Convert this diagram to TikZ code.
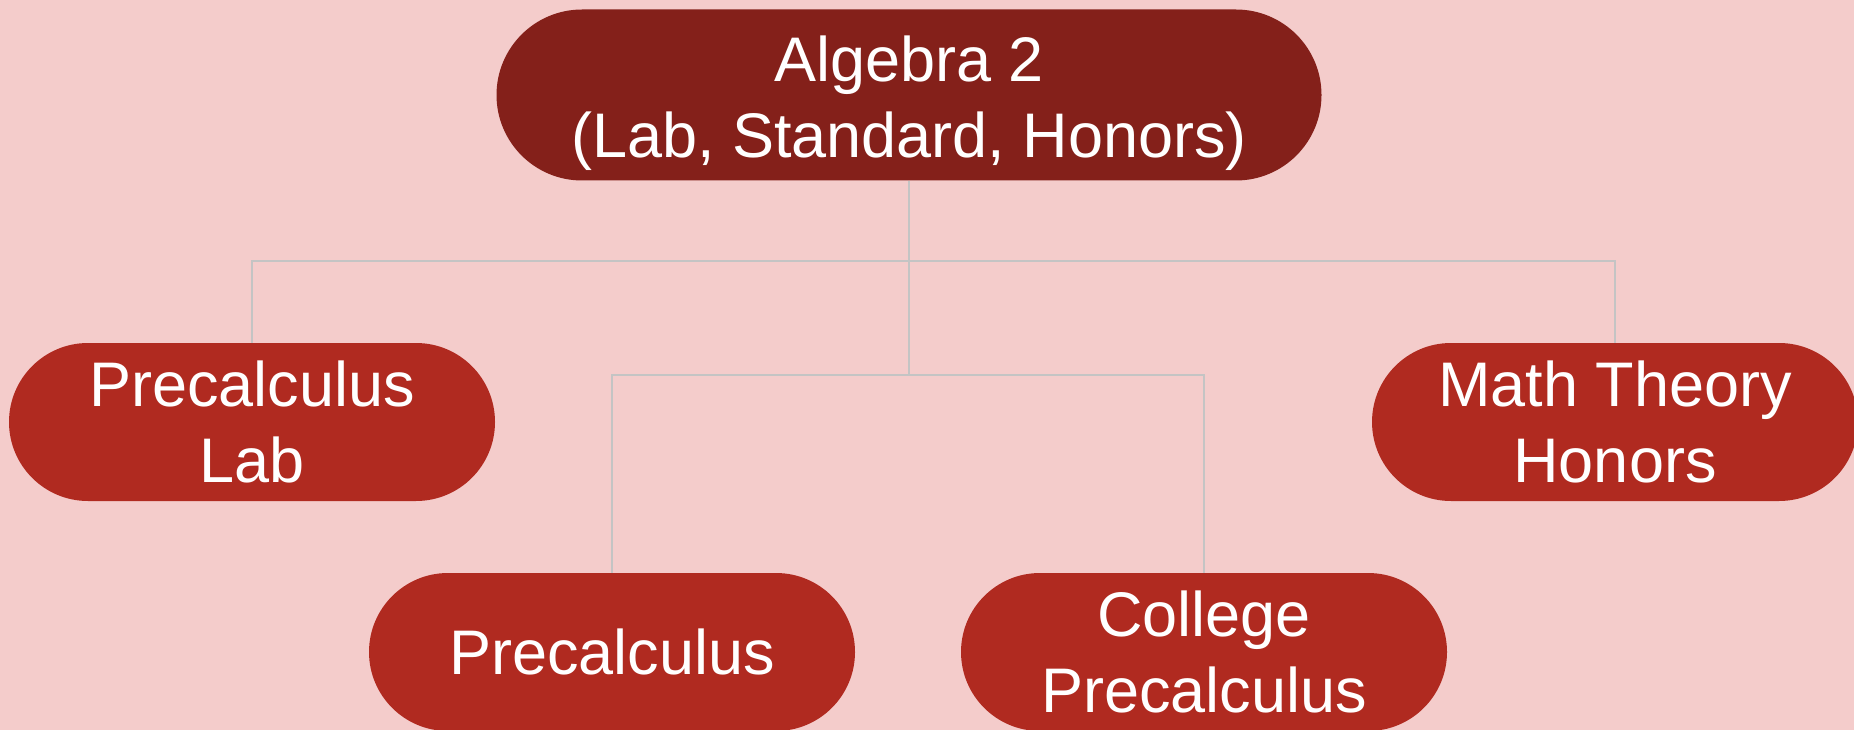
\documentclass[tikz,border=0pt]{standalone}
\usepackage{fontspec}
\setmainfont{Liberation Sans}
\usetikzlibrary{shapes.misc}
\definecolor{bgpink}{HTML}{F4CCCB}
\definecolor{topred}{HTML}{84201A}
\definecolor{kidred}{HTML}{B02A20}
\definecolor{linegray}{HTML}{C4C4C4}
\tikzset{
  course/.style={rounded rectangle, fill=kidred, text=white, align=center,
    minimum width=486pt, minimum height=158pt, inner sep=0pt,
    font=\fontsize{63}{76}\selectfont},
  link/.style={draw=linegray, line width=1.6pt}
}
\begin{document}
\begin{tikzpicture}[x=1pt, y=-1pt]
% background and frame
\fill[bgpink] (0,0) rectangle (1854,730);
\useasboundingbox (0,0) rectangle (1854,730);
% the courses
\node[course, fill=topred, minimum width=825pt, minimum height=171pt] (alg) at (909,95) {\rule{0pt}{62pt}Algebra 2\\(Lab, Standard, Honors)};
\node[course] (lab) at (252,422) {Precalculus\\Lab};
\node[course] (honors) at (1615,422) {Math Theory\\Honors};
\node[course] (pre) at (612,652) {Precalculus};
\node[course] (college) at (1204,652) {College\\Precalculus};
% the forks
\coordinate (fork1) at (909,261);
\coordinate (fork2) at (909,375);
\draw[link] (alg.south) -- (fork2);
\draw[link] (lab.north) |- (fork1) -| (honors.north);
\draw[link] (pre.north) |- (fork2) -| (college.north);
\end{tikzpicture}
\end{document}
